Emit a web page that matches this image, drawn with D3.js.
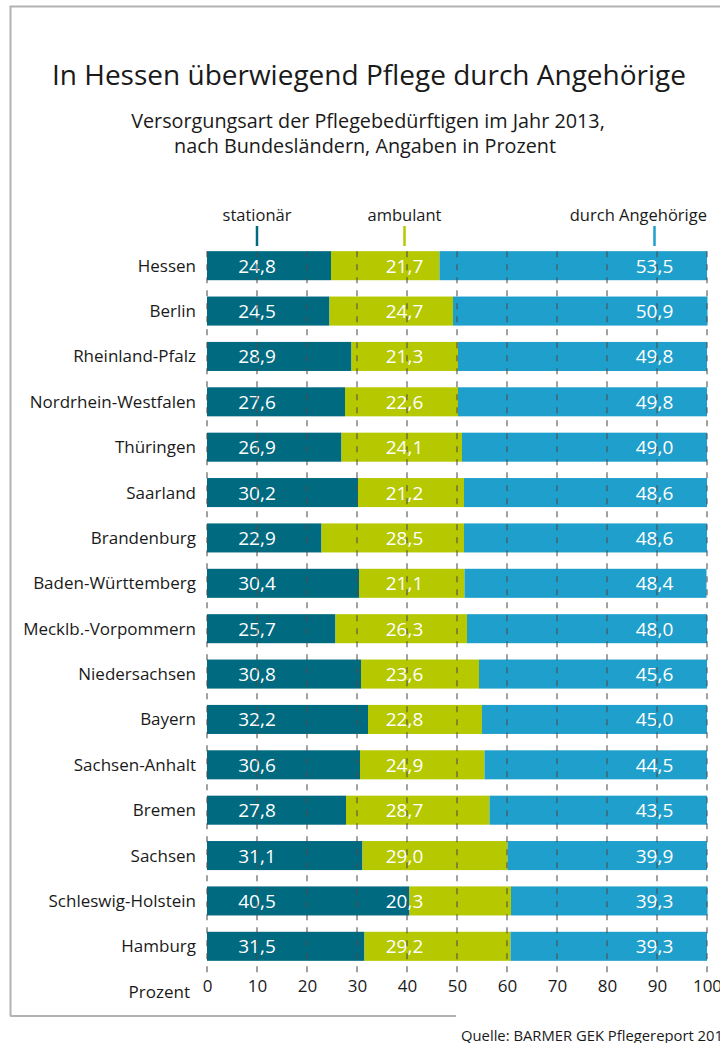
<!DOCTYPE html>
<html>
<head>
<meta charset="utf-8">
<script src="https://cdn.jsdelivr.net/npm/d3@7"></script>
<style>
  body { margin: 0; background: #fff; }
  svg text { font-family: "Open Sans", "Noto Sans", sans-serif; }
</style>
</head>
<body>
<div id="chart"></div>
<script>
var states = ["Hessen", "Berlin", "Rheinland-Pfalz", "Nordrhein-Westfalen", "Thüringen",
  "Saarland", "Brandenburg", "Baden-Württemberg", "Mecklb.-Vorpommern", "Niedersachsen",
  "Bayern", "Sachsen-Anhalt", "Bremen", "Sachsen", "Schleswig-Holstein", "Hamburg"];
var stationaer = [24.8, 24.5, 28.9, 27.6, 26.9, 30.2, 22.9, 30.4, 25.7, 30.8, 32.2, 30.6, 27.8, 31.1, 40.5, 31.5];
var ambulant = [21.7, 24.7, 21.3, 22.6, 24.1, 21.2, 28.5, 21.1, 26.3, 23.6, 22.8, 24.9, 28.7, 29.0, 20.3, 29.2];
var angehoerige = [53.5, 50.9, 49.8, 49.8, 49.0, 48.6, 48.6, 48.4, 48.0, 45.6, 45.0, 44.5, 43.5, 39.9, 39.3, 39.3];
var seriesNames = ["stationär", "ambulant", "durch Angehörige"];
var xTicks = [0, 10, 20, 30, 40, 50, 60, 70, 80, 90, 100];
// where the value labels / legend markers sit on the x scale
var labelPos = [10, 39.5, 89.5];

var colors = ["#006a81", "#b5c800", "#1f9fcb"];
var width = 720, height = 1043;

var svg = d3.select("#chart").append("svg")
  .attr("width", width)
  .attr("height", height);

// frame
svg.append("path")
  .attr("d", "M10.5,1016 L10.5,6.5 L720,6.5")
  .attr("fill", "none")
  .attr("stroke", "#b3b3b3")
  .attr("stroke-width", 2);
svg.append("line")
  .attr("x1", 10).attr("x2", 456)
  .attr("y1", 1016).attr("y2", 1016)
  .attr("stroke", "#b3b3b3")
  .attr("stroke-width", 2);

// titles
svg.append("text")
  .attr("x", 369).attr("y", 85)
  .attr("text-anchor", "middle")
  .style("font-size", "28px")
  .attr("fill", "#1a1a1a")
  .text("In Hessen überwiegend Pflege durch Angehörige");
svg.append("text")
  .attr("x", 368).attr("y", 128)
  .attr("text-anchor", "middle")
  .style("font-size", "19.8px")
  .attr("fill", "#1a1a1a")
  .text("Versorgungsart der Pflegebedürftigen im Jahr 2013,");
svg.append("text")
  .attr("x", 365).attr("y", 153)
  .attr("text-anchor", "middle")
  .style("font-size", "19.8px")
  .attr("fill", "#1a1a1a")
  .text("nach Bundesländern, Angaben in Prozent");

var x = d3.scaleLinear().domain([0, 100]).range([207, 707]);
var y = d3.scaleBand().domain(states).range([243, 969])
  .paddingInner(0.36).paddingOuter(0.18);

var rows = states.map(function (s, i) {
  return { name: s, values: [stationaer[i], ambulant[i], angehoerige[i]] };
});

// bars
var rowG = svg.selectAll(".row")
  .data(rows)
  .enter().append("g")
  .attr("class", "row")
  .attr("transform", function (d) { return "translate(0," + y(d.name) + ")"; });

rowG.each(function (d) {
  var g = d3.select(this);
  var start = 0;
  d.values.forEach(function (v, k) {
    g.append("rect")
      .attr("x", x(start))
      .attr("y", 0)
      .attr("width", x(start + v) - x(start))
      .attr("height", y.bandwidth())
      .attr("fill", colors[k]);
    start += v;
  });
});

// category labels
rowG.append("text")
  .attr("x", 196)
  .attr("y", y.bandwidth() / 2 + 6)
  .attr("text-anchor", "end")
  .style("font-size", "17px")
  .attr("fill", "#1a1a1a")
  .text(function (d) { return d.name; });

// dashed grid lines on top of bars
svg.append("g")
  .selectAll("line")
  .data(xTicks)
  .enter().append("line")
  .attr("x1", function (d) { return x(d); })
  .attr("x2", function (d) { return x(d); })
  .attr("y1", y(states[0]))
  .attr("y2", 978)
  .attr("stroke", "#4d4d4d")
  .attr("stroke-opacity", 0.7)
  .attr("stroke-width", 1.5)
  .attr("stroke-dasharray", "6,7");

// value labels
var fmt = function (v) { return d3.format(".1f")(v).replace(".", ","); };
rowG.each(function (d) {
  var g = d3.select(this);
  d.values.forEach(function (v, k) {
    g.append("text")
      .attr("x", x(labelPos[k]))
      .attr("y", y.bandwidth() / 2 + 7)
      .attr("text-anchor", "middle")
      .style("font-size", "19px")
      .attr("fill", "#fff")
      .text(fmt(v));
  });
});

// legend
var legendAnchor = ["middle", "middle", "end"];
var legendX = [x(labelPos[0]), x(labelPos[1]), 707];
seriesNames.forEach(function (n, k) {
  svg.append("text")
    .attr("x", legendX[k])
    .attr("y", 221)
    .attr("text-anchor", legendAnchor[k])
    .style("font-size", "16.5px")
    .attr("fill", "#1a1a1a")
    .text(n);
  svg.append("line")
    .attr("x1", x(labelPos[k])).attr("x2", x(labelPos[k]))
    .attr("y1", 226).attr("y2", 246)
    .attr("stroke", colors[k])
    .attr("stroke-width", 2.5);
});

// x axis labels
var xAxis = d3.axisBottom(x).tickValues(xTicks).tickSize(0).tickPadding(0);
var axisG = svg.append("g")
  .attr("transform", "translate(0,980)")
  .call(xAxis);
axisG.select(".domain").remove();
axisG.selectAll("text")
  .style("font-size", "17px")
  .style("font-family", "'Open Sans', sans-serif")
  .attr("fill", "#1a1a1a");

svg.append("text")
  .attr("x", 190).attr("y", 998)
  .attr("text-anchor", "end")
  .style("font-size", "17px")
  .attr("fill", "#1a1a1a")
  .text("Prozent");

// source
svg.append("text")
  .attr("x", 461).attr("y", 1041)
  .style("font-size", "14.8px")
  .attr("fill", "#1a1a1a")
  .text("Quelle: BARMER GEK Pflegereport 2014");
</script>
</body>
</html>
